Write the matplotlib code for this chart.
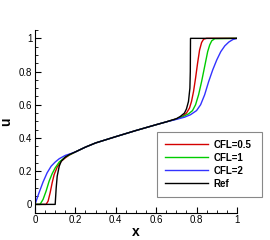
import matplotlib
matplotlib.use("Agg")
import matplotlib.pyplot as plt
from matplotlib.ticker import MultipleLocator

plt.rcParams['font.family'] = ['Liberation Sans', 'DejaVu Sans']

labels = ["CFL=0.5", "CFL=1", "CFL=2", "Ref"]
colors = ["#d40000", "#00cc00", "#3333ff", "#000000"]

x_ref = [0.0, 0.1, 0.101, 0.105, 0.11, 0.12, 0.13, 0.15, 0.17, 0.2, 0.25, 0.3, 0.4, 0.5, 0.6, 0.65,
         0.7, 0.72, 0.74, 0.75, 0.76, 0.767, 0.769, 0.77, 1.0]
u_ref = [0.0, 0.0, 0.02, 0.1, 0.17, 0.23, 0.26, 0.285, 0.3, 0.316, 0.345, 0.37, 0.408, 0.445, 0.48, 0.497,
         0.516, 0.53, 0.55, 0.575, 0.62, 0.7, 0.8, 1.0, 1.0]

x_c05 = [0.0, 0.055, 0.065, 0.075, 0.085, 0.095, 0.11, 0.13, 0.15, 0.17, 0.2, 0.25, 0.3, 0.4, 0.5, 0.6, 0.65,
         0.7, 0.73, 0.75, 0.765, 0.775, 0.785, 0.795, 0.805, 0.815, 0.825, 0.835, 0.85, 1.0]
u_c05 = [0.0, 0.0, 0.02, 0.07, 0.13, 0.18, 0.225, 0.26, 0.28, 0.297, 0.316, 0.345, 0.37, 0.408, 0.445, 0.48, 0.497,
         0.515, 0.53, 0.55, 0.58, 0.62, 0.68, 0.76, 0.85, 0.93, 0.975, 0.995, 1.0, 1.0]

x_c1 = [0.0, 0.025, 0.04, 0.055, 0.07, 0.085, 0.1, 0.12, 0.15, 0.17, 0.2, 0.25, 0.3, 0.4, 0.5, 0.6, 0.65,
        0.7, 0.73, 0.76, 0.78, 0.795, 0.81, 0.825, 0.84, 0.855, 0.865, 0.875, 0.89, 1.0]
u_c1 = [0.0, 0.0, 0.03, 0.08, 0.14, 0.185, 0.22, 0.255, 0.285, 0.298, 0.316, 0.345, 0.37, 0.408, 0.445, 0.48, 0.497,
        0.514, 0.527, 0.545, 0.565, 0.6, 0.66, 0.74, 0.83, 0.92, 0.96, 0.985, 0.998, 1.0]

x_c2 = [0.0, 0.01, 0.02, 0.04, 0.06, 0.08, 0.1, 0.12, 0.15, 0.18, 0.2, 0.25, 0.3, 0.4, 0.5, 0.6, 0.65,
        0.7, 0.74, 0.77, 0.8, 0.82, 0.84, 0.86, 0.88, 0.9, 0.92, 0.94, 0.96, 0.98, 1.0]
u_c2 = [0.0, 0.035, 0.07, 0.135, 0.19, 0.23, 0.255, 0.275, 0.295, 0.307, 0.316, 0.345, 0.37, 0.408, 0.445, 0.48, 0.497,
        0.512, 0.525, 0.54, 0.565, 0.6, 0.66, 0.74, 0.81, 0.87, 0.92, 0.955, 0.978, 0.993, 1.0]

series = [(x_c05, u_c05), (x_c1, u_c1), (x_c2, u_c2), (x_ref, u_ref)]

fig = plt.figure(figsize=(2.7, 2.4), dpi=100)
ax = fig.add_axes([0.1296, 0.1138, 0.748, 0.761])

for (xs, us), lab, col in zip(series, labels, colors):
    ax.plot(xs, us, color=col, lw=1.0, label=lab)

ax.set_xlim(0, 1)
ax.set_ylim(-0.05, 1.05)
ax.spines['top'].set_visible(False)
ax.spines['right'].set_visible(False)
ax.xaxis.set_minor_locator(MultipleLocator(0.05))
ax.yaxis.set_minor_locator(MultipleLocator(0.05))
ax.set_yticks([0, 0.2, 0.4, 0.6, 0.8, 1.0])
ax.set_yticklabels(["0", "0.2", "0.4", "0.6", "0.8", "1"])
ax.set_xticks([0, 0.2, 0.4, 0.6, 0.8, 1.0])
ax.set_xticklabels(["0", "0.2", "0.4", "0.6", "0.8", "1"])
ax.tick_params(which='both', direction='in', labelsize=7, pad=2)
ax.tick_params(which='major', length=4, width=0.8)
ax.tick_params(which='minor', length=2, width=0.6)
ax.set_xlabel("x", fontsize=10, fontweight='bold', labelpad=0)
ax.set_ylabel("u", fontsize=10, fontweight='bold', labelpad=4)

leg = ax.legend(loc='lower left', bbox_to_anchor=(0.580, 0.180, 0.389, 0.269),
                bbox_transform=fig.transFigure, mode='expand',
                prop={'weight': 'bold', 'size': 7}, handlelength=4.4,
                fancybox=False, framealpha=1, edgecolor='#888888',
                borderaxespad=0, borderpad=0.85, labelspacing=0.3, handletextpad=0.6)
leg.get_frame().set_linewidth(0.8)

fig.savefig("out.png", dpi=100)
